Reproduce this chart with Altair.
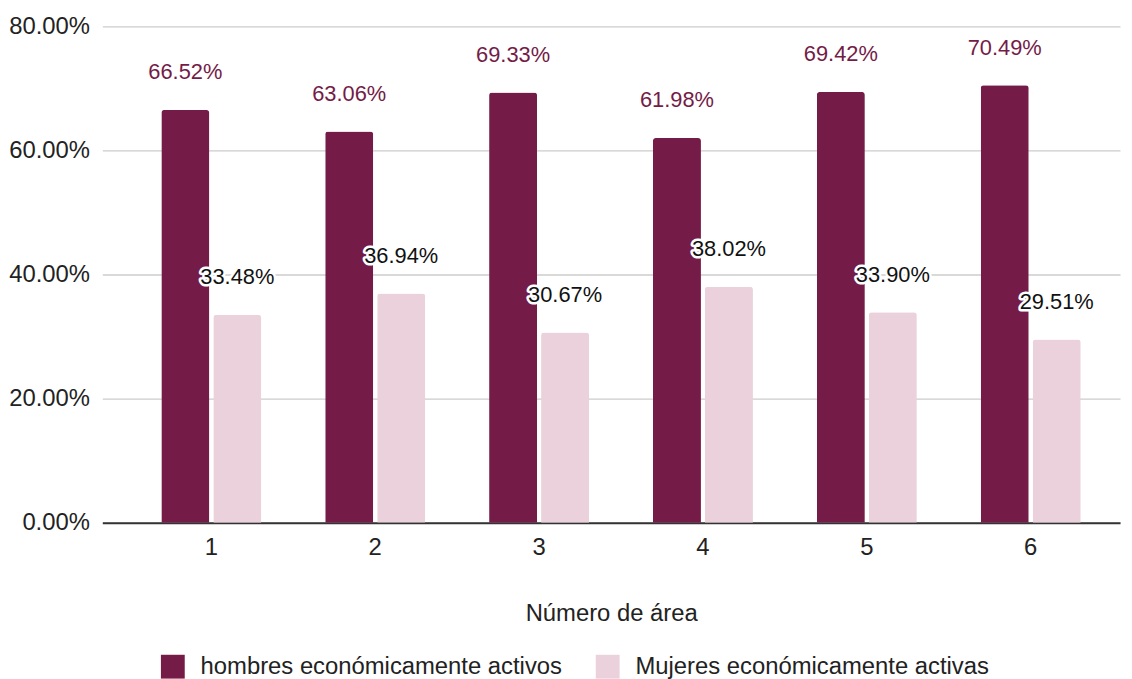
import altair as alt
import pandas as pd

areas = ["1", "2", "3", "4", "5", "6"]
hombres = [0.6652, 0.6306, 0.6933, 0.6198, 0.6942, 0.7049]
mujeres = [0.3348, 0.3694, 0.3067, 0.3802, 0.3390, 0.2951]
series = ["hombres económicamente activos", "Mujeres económicamente activas"]
colors = ["#741b47", "#ead1dc"]
y_ticks = [0, 0.2, 0.4, 0.6, 0.8]

rows = []
for a, h, m in zip(areas, hombres, mujeres):
    rows.append({"area": a, "serie": series[0], "valor": h})
    rows.append({"area": a, "serie": series[1], "valor": m})
df = pd.DataFrame(rows)

FONT = "Arial, Liberation Sans"
AX = 24

x_enc = alt.X("area:N", sort=areas,
              scale=alt.Scale(paddingInner=0.39, paddingOuter=0.30, align=0.60),
              axis=alt.Axis(title="Número de área", labelAngle=0, labelFontSize=AX,
                            labelFont=FONT, labelColor="#222222", labelPadding=13,
                            ticks=False, domain=True, domainColor="#333333",
                            domainWidth=2, titleFont=FONT, titleFontSize=AX,
                            titleFontWeight="normal", titleColor="#222222",
                            titlePadding=42, grid=False))
xo_enc = alt.XOffset("serie:N", sort=series,
                     scale=alt.Scale(paddingInner=0.077, paddingOuter=0))
y_enc = alt.Y("valor:Q",
              scale=alt.Scale(domain=[0, 0.8], nice=False),
              axis=alt.Axis(title=None, format=".2%", values=y_ticks,
                            labelFontSize=AX, labelFont=FONT, labelColor="#222222",
                            labelPadding=13, ticks=False, domain=False,
                            gridColor="#cccccc", gridWidth=1.3))

color_enc = alt.Color("serie:N", sort=series,
                      scale=alt.Scale(domain=series, range=colors),
                      legend=alt.Legend(title=None, orient="none", direction="horizontal",
                                        legendX=59, legendY=633, symbolType="square",
                                        symbolSize=576, symbolStrokeWidth=0,
                                        labelFontSize=AX, labelFont=FONT,
                                        labelColor="#222222", labelOffset=16,
                                        columnPadding=33, labelLimit=600, padding=0))

bars = alt.Chart(df).mark_bar(cornerRadiusTopLeft=3, cornerRadiusTopRight=3).encode(
    x=x_enc, xOffset=xo_enc, y=y_enc, color=color_enc
)

lab_h = alt.Chart(df).transform_filter(alt.datum.serie == series[0]).mark_text(
    dy=-38, fontSize=22, font=FONT, color="#741b47", baseline="middle"
).encode(x=x_enc, xOffset=xo_enc, y=y_enc, text=alt.Text("valor:Q", format=".2%"))

lab_m_halo = alt.Chart(df).transform_filter(alt.datum.serie == series[1]).mark_text(
    dy=-38, fontSize=22, font=FONT, color="white", stroke="white", strokeWidth=5,
    strokeJoin="round", baseline="middle"
).encode(x=x_enc, xOffset=xo_enc, y=y_enc, text=alt.Text("valor:Q", format=".2%"))

lab_m = alt.Chart(df).transform_filter(alt.datum.serie == series[1]).mark_text(
    dy=-38, fontSize=22, font=FONT, color="#111111", baseline="middle"
).encode(x=x_enc, xOffset=xo_enc, y=y_enc, text=alt.Text("valor:Q", format=".2%"))

chart = alt.layer(bars, lab_h, lab_m_halo, lab_m).properties(
    width=1025, height=500,
    autosize=alt.AutoSizeParams(type="none"),
    padding={"left": 95, "top": 16, "right": 4, "bottom": 155},
).configure_view(stroke=None)

chart.save("out.html", embed_options={"renderer": "svg", "actions": False})
